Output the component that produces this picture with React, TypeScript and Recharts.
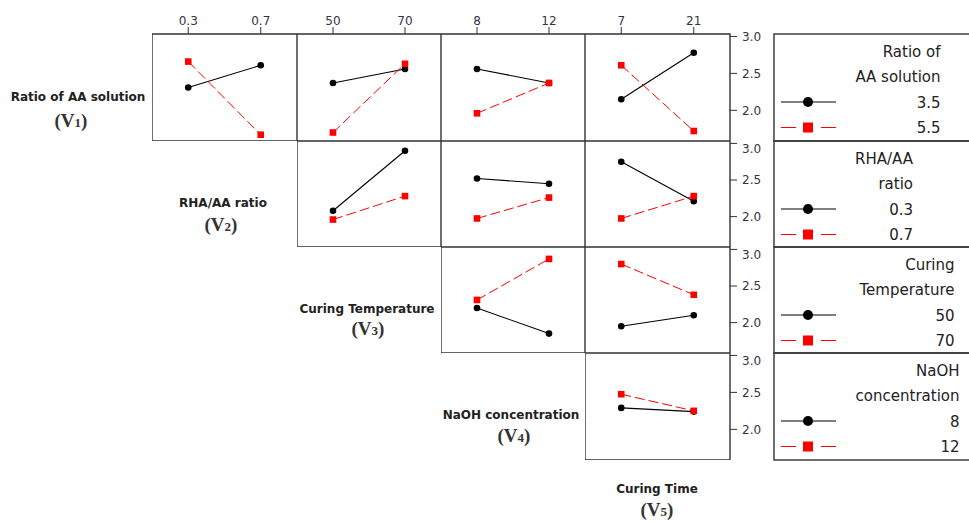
import React from 'react';
import { LineChart, Line, XAxis, YAxis, ReferenceArea } from 'recharts';

const factorNames = ['Ratio of AA solution', 'RHA/AA ratio', 'Curing Temperature', 'NaOH concentration', 'Curing Time'];
const legendTitles = [['Ratio of', 'AA solution'], ['RHA/AA', 'ratio'], ['Curing', 'Temperature'], ['NaOH', 'concentration']];
const levels = [[3.5, 5.5], [0.3, 0.7], [50, 70], [8, 12], [7, 21]];
const levelLabels = [['3.5', '5.5'], ['0.3', '0.7'], ['50', '70'], ['8', '12'], ['7', '21']];
const yTicks = [2.0, 2.5, 3.0];

// mean response per panel: one [low, high] pair of the column factor for each column
const lowRow1 = [[2.31, 2.61], [2.37, 2.56], [2.56, 2.37], [2.15, 2.78]];
const highRow1 = [[2.66, 1.67], [1.7, 2.63], [1.96, 2.37], [2.61, 1.72]];
const lowRow2 = [[2.08, 2.9], [2.52, 2.45], [2.75, 2.21]];
const highRow2 = [[1.96, 2.28], [1.975, 2.26], [1.975, 2.28]];
const lowRow3 = [[2.2, 1.85], [1.95, 2.1]];
const highRow3 = [[2.31, 2.87], [2.8, 2.38]];
const lowRow4 = [[2.29, 2.24]];
const highRow4 = [[2.475, 2.25]];

const lowRows = [lowRow1, lowRow2, lowRow3, lowRow4];
const highRows = [highRow1, highRow2, highRow3, highRow4];

// layout
const colLefts = [152, 297, 441, 585];
const colW = [145, 144, 144, 145];
const rowTops = [34, 141, 247, 353];
const rowH = [107, 106, 106, 107];
const yDomain: [number, number] = [1.585, 3.033];
const topAxisH = 34;
const rightAxisW = 44;
const legendLeft = 774;
const legendRight = [940.5, 913, 954.5, 959.5];
const legendLineY = [17, 42.5, 68, 93.5];
const rowLabelPos = [
  [78, 96, 71, 121],
  [223, 202, 221, 225],
  [367, 308, 368, 329],
  [511, 414, 514, 436],
  [657, 488, 657, 510],
];

const axisFont = { fontFamily: 'DejaVu Sans', fontSize: 12, fill: '#333344' };

const RedSquare = (props: any) => {
  const { cx, cy, index } = props;
  if (cx == null || cy == null) return <g key={`e-${index}`} />;
  return <rect key={`sq-${index}`} x={cx - 3.3} y={cy - 3.3} width={6.6} height={6.6} fill="#ff0000" />;
};

function Panel({ r, c }: { r: number; c: number }) {
  const xf = levels[c + 1];
  const low = lowRows[r][c - r];
  const high = highRows[r][c - r];
  const data = xf.map((x, i) => ({ x, low: low[i], high: high[i] }));
  const pad = (xf[1] - xf[0]) / 2;
  const xDomain: [number, number] = [xf[0] - pad, xf[1] + pad];
  const showTop = r === 0;
  const showRight = c === 3;
  const width = colW[c] + (showRight ? rightAxisW : 0);
  const height = rowH[r] + (showTop ? topAxisH : 0);
  return (
    <div style={{ position: 'absolute', left: colLefts[c], top: rowTops[r] - (showTop ? topAxisH : 0) }}>
      <LineChart width={width} height={height} data={data} margin={{ top: 0, right: 0, bottom: 0, left: 0 }}>
        <XAxis
          type="number"
          dataKey="x"
          domain={xDomain}
          ticks={xf}
          orientation="top"
          hide={!showTop}
          height={topAxisH}
          tickSize={7}
          tickMargin={2}
          axisLine={false}
          tickLine={{ stroke: '#333' }}
          tick={axisFont}
          allowDataOverflow
        />
        <YAxis
          type="number"
          domain={yDomain}
          ticks={yTicks}
          orientation="right"
          hide={!showRight}
          width={rightAxisW}
          tickSize={7}
          tickMargin={5}
          axisLine={false}
          tickLine={{ stroke: '#333' }}
          tick={{ ...axisFont, textAnchor: 'start' }}
          tickFormatter={(v: number) => v.toFixed(1)}
          allowDataOverflow
        />
        <ReferenceArea
          x1={xDomain[0]}
          x2={xDomain[1]}
          y1={yDomain[0]}
          y2={yDomain[1]}
          fill="none"
          fillOpacity={0}
          stroke="#333"
          strokeWidth={1.4}
          ifOverflow="visible"
        />
        <Line
          type="linear"
          dataKey="low"
          stroke="#000"
          strokeWidth={1.1}
          dot={{ r: 3.3, fill: '#000', stroke: 'none' }}
          isAnimationActive={false}
        />
        <Line
          type="linear"
          dataKey="high"
          stroke="#ff0000"
          strokeWidth={1}
          strokeDasharray="10 4"
          dot={RedSquare}
          isAnimationActive={false}
        />
      </LineChart>
    </div>
  );
}

function LegendBox({ r }: { r: number }) {
  const top = rowTops[r];
  const right = legendRight[r];
  const lines = [...legendTitles[r], ...levelLabels[r]];
  const blackY = top + legendLineY[2];
  const redY = top + legendLineY[3];
  return (
    <g>
      <rect x={legendLeft} y={top} width={220} height={rowH[r]} fill="none" stroke="#333" strokeWidth={1.4} />
      {lines.map((t, i) => (
        <text
          key={i}
          x={right}
          y={top + legendLineY[i] + 5.5}
          textAnchor="end"
          fontFamily="DejaVu Sans"
          fontSize={15}
          fill="#222"
        >
          {t}
        </text>
      ))}
      <line x1={781} x2={836} y1={blackY} y2={blackY} stroke="#000" strokeWidth={1.1} />
      <circle cx={808} cy={blackY} r={5} fill="#000" />
      <line x1={781} x2={796} y1={redY} y2={redY} stroke="#ff0000" strokeWidth={1} />
      <line x1={821} x2={836} y1={redY} y2={redY} stroke="#ff0000" strokeWidth={1} />
      <rect x={803} y={redY - 5} width={10} height={10} fill="#ff0000" />
    </g>
  );
}

export default function App() {
  const panels: React.ReactNode[] = [];
  for (let r = 0; r < 4; r++) {
    for (let c = r; c < 4; c++) {
      panels.push(<Panel key={`${r}-${c}`} r={r} c={c} />);
    }
  }
  return (
    <div style={{ position: 'absolute', left: 0, top: 0, width: 969, height: 521, background: '#fff', overflow: 'hidden' }}>
      {panels}
      <svg width={969} height={521} style={{ position: 'absolute', left: 0, top: 0, pointerEvents: 'none' }}>
        {[0, 1, 2, 3].map((r) => (
          <LegendBox key={r} r={r} />
        ))}
        {factorNames.map((name, i) => {
          const [nx, ny, vx, vy] = rowLabelPos[i];
          return (
            <g key={name}>
              <text x={nx} y={ny + 4.5} textAnchor="middle" fontFamily="DejaVu Sans" fontWeight="bold" fontSize={12} fill="#222">
                {name}
              </text>
              <text x={vx} y={vy + 6} textAnchor="middle" fontFamily="Liberation Serif" fontWeight="bold" fontSize={19} fill="#333">
                (V<tspan fontSize={13}>{i + 1}</tspan>)
              </text>
            </g>
          );
        })}
      </svg>
    </div>
  );
}
